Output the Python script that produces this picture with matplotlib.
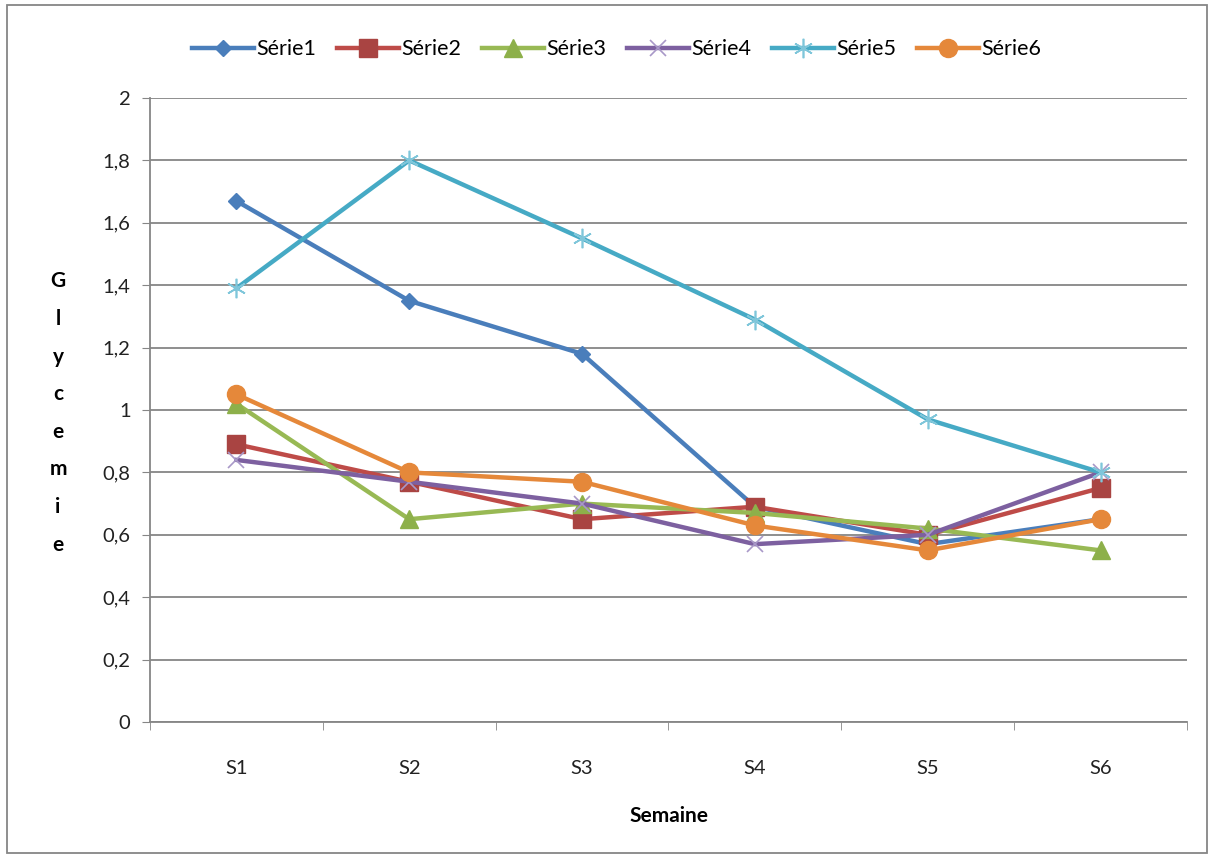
import matplotlib.pyplot as plt
from matplotlib.patches import Rectangle

weeks = ['S1', 'S2', 'S3', 'S4', 'S5', 'S6']
serie1 = [1.67, 1.35, 1.18, 0.69, 0.57, 0.65]
serie2 = [0.89, 0.77, 0.65, 0.69, 0.60, 0.75]
serie3 = [1.02, 0.65, 0.70, 0.67, 0.62, 0.55]
serie4 = [0.84, 0.77, 0.70, 0.57, 0.60, 0.80]
serie5 = [1.39, 1.80, 1.55, 1.29, 0.97, 0.80]
serie6 = [1.05, 0.80, 0.77, 0.63, 0.55, 0.65]
names = ['Série1', 'Série2', 'Série3', 'Série4', 'Série5', 'Série6']
yticks = [0, 0.2, 0.4, 0.6, 0.8, 1, 1.2, 1.4, 1.6, 1.8, 2]
ylabels = ['0', '0,2', '0,4', '0,6', '0,8', '1', '1,2', '1,4', '1,6', '1,8', '2']

plt.rcParams['font.family'] = ['Lato', 'DejaVu Sans']

fig = plt.figure(figsize=(12.15, 8.57), dpi=100)
ax = fig.add_axes([150 / 1215, 1 - 722 / 857, 1037 / 1215, 624 / 857])

x = list(range(len(weeks)))
styles = [
    dict(color='#4A7EBB', marker='D', ms=8, mfc='#4A7EBB', mec='#4A7EBB'),
    dict(color='#BE4B48', marker='s', ms=13, mfc='#A94442', mec='#A94442'),
    dict(color='#98B954', marker='^', ms=13, mfc='#8DB04A', mec='#8DB04A'),
    dict(color='#7D60A0', marker='x', ms=11, mec='#A898C8', mew=1.2),
    dict(color='#46AAC5', marker=(6, 2, 0), ms=14, mec='#7FC6DA', mew=1.2),
    dict(color='#E5883A', marker='o', ms=13, mfc='#E5883A', mec='#E5883A'),
]
for vals, name, st in zip([serie1, serie2, serie3, serie4, serie5, serie6], names, styles):
    ax.plot(x, vals, lw=3.2, label=name, **st)

ax.set_xlim(-0.5, 5.5)
ax.set_ylim(0, 2)
ax.set_yticks(yticks)
ax.set_yticklabels(ylabels)
ax.set_xticks(x)
ax.set_xticklabels(weeks)
ax.set_xticks([i - 0.5 for i in range(7)], minor=True)
ax.tick_params(axis='x', which='major', length=0, pad=27, labelsize=14.5, colors='#222222')
ax.tick_params(axis='x', which='minor', length=6, color='#868686')
ax.tick_params(axis='y', length=6, color='#868686', labelsize=14.5, labelcolor='#222222', pad=8)
ax.grid(axis='y', color='#868686', lw=1.3)
ax.set_axisbelow(True)
for s in ['top', 'right']:
    ax.spines[s].set_visible(False)
for s in ['left', 'bottom']:
    ax.spines[s].set_color('#868686')
    ax.spines[s].set_linewidth(1.3)

ax.set_xlabel('Semaine', fontsize=15, fontweight='bold', labelpad=21)
fig.text(58 / 1215, 1 - 413 / 857, '\n'.join('Glycemie'), fontsize=15, fontweight='bold',
         ha='center', va='center', linespacing=2.1)

ax.legend(loc='lower center', bbox_to_anchor=(0.45, 1.0), ncol=6, frameon=False,
          fontsize=15.5, numpoints=1, handlelength=2.9, handletextpad=0.1, columnspacing=0.95,
          borderaxespad=1.4)

fig.patches.append(Rectangle((7 / 1215, 4 / 857), 1200 / 1215, 848 / 857, transform=fig.transFigure,
                             fill=False, ec='#868686', lw=1.3))

fig.savefig('out.png', dpi=100)
